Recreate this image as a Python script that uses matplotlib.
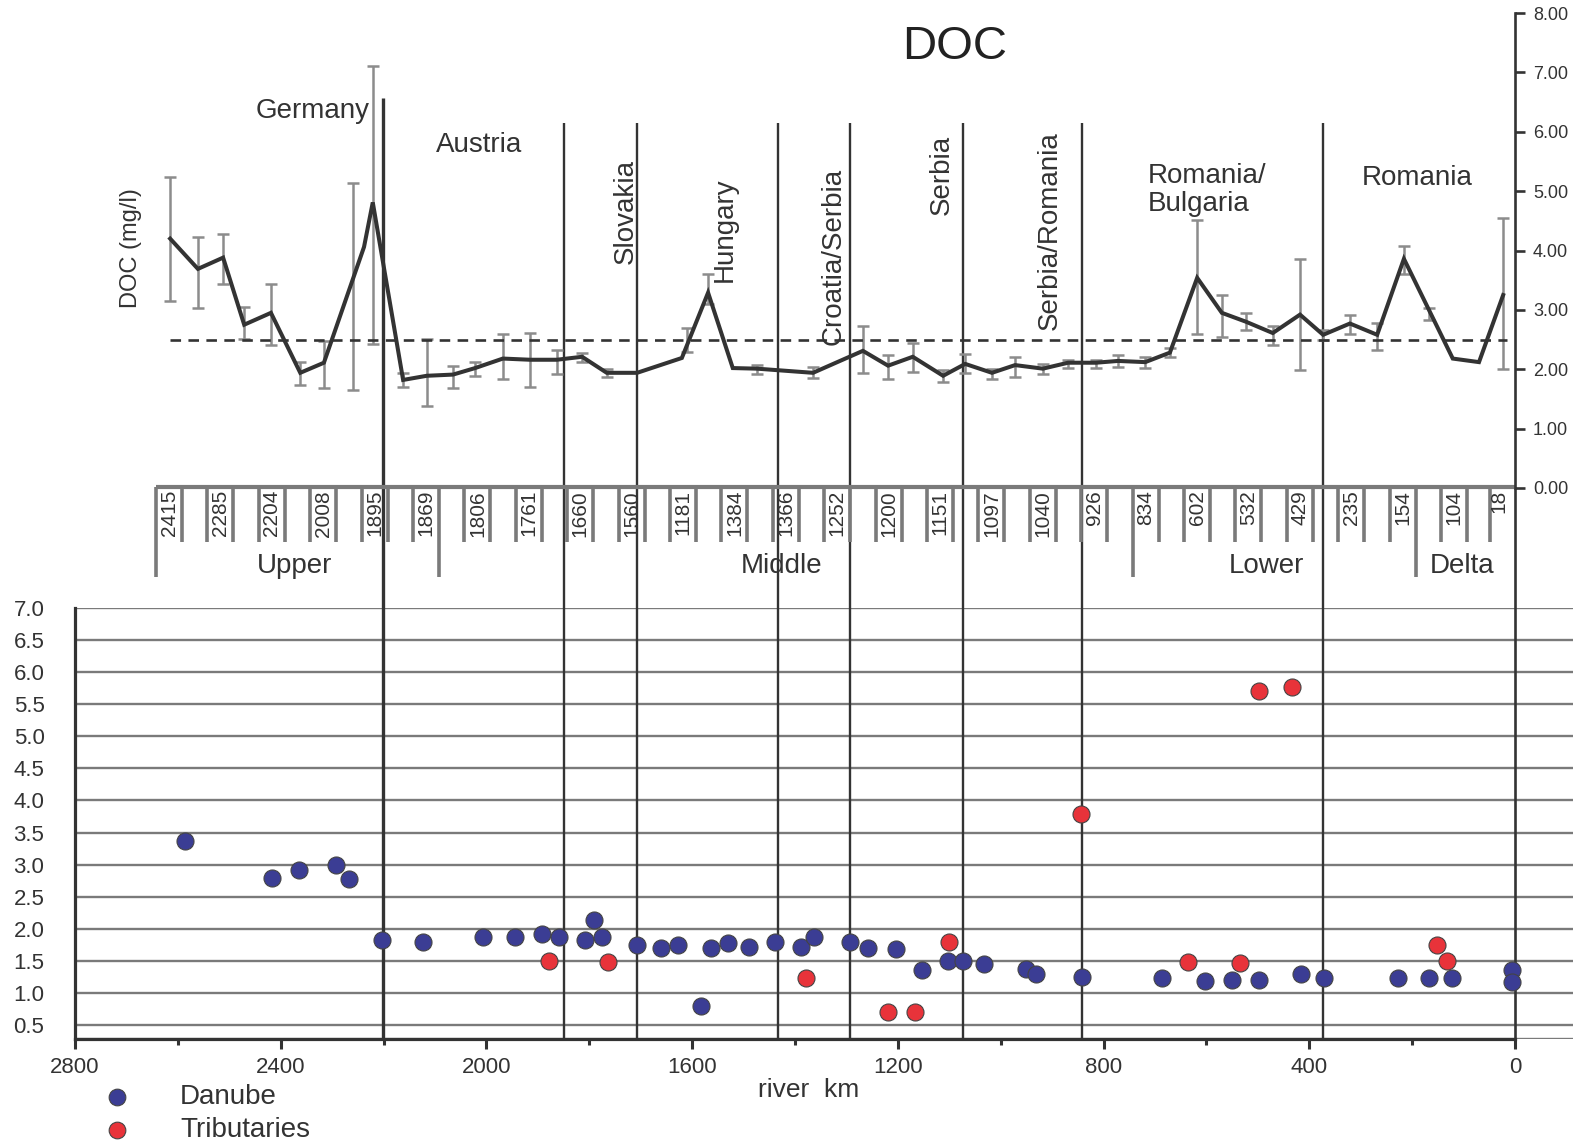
import numpy as np
import matplotlib
matplotlib.use('Agg')
import matplotlib.pyplot as plt

plt.rcParams['font.family'] = ['Liberation Sans', 'DejaVu Sans']

# ------------------------------------------------------------------ data
# Top panel: DOC profile (x positions on the river-km scale of the figure)
line_km = [2615, 2561, 2512, 2471, 2419, 2362, 2316, 2238, 2221, 2162,
           2116, 2065, 2022, 1968, 1915, 1863, 1814, 1766, 1707, 1620,
           1569, 1521, 1474, 1365, 1268, 1219, 1171, 1112, 1069, 1017,
           972, 918, 869, 815, 772, 719, 671, 618, 570, 523,
           471, 418, 373, 321, 268, 216, 121, 70, 23]
line_doc = [4.20, 3.69, 3.88, 2.75, 2.95, 1.94, 2.11, 4.06, 4.81, 1.82,
            1.89, 1.91, 2.02, 2.18, 2.16, 2.16, 2.21, 1.94, 1.94, 2.19,
            3.29, 2.02, 2.01, 1.94, 2.31, 2.06, 2.21, 1.89, 2.09, 1.94,
            2.07, 2.01, 2.11, 2.11, 2.14, 2.12, 2.28, 3.54, 2.95, 2.80,
            2.61, 2.92, 2.58, 2.77, 2.58, 3.86, 2.18, 2.12, 3.25]

err_km = [2615, 2561, 2512, 2471, 2419, 2362, 2316, 2259, 2221, 2162,
          2116, 2065, 2022, 1968, 1915, 1863, 1814, 1766, 1610, 1569,
          1474, 1365, 1268, 1219, 1171, 1112, 1069, 1017, 972, 918,
          869, 815, 772, 719, 671, 618, 570, 523, 471, 418,
          373, 321, 268, 216, 167, 23]
err_hi = [5.24, 4.23, 4.28, 3.05, 3.44, 2.12, 2.48, 5.13, 7.10, 1.94,
          2.51, 2.06, 2.12, 2.60, 2.61, 2.33, 2.28, 2.01, 2.70, 3.61,
          2.07, 2.04, 2.73, 2.24, 2.45, 1.99, 2.26, 2.01, 2.21, 2.09,
          2.16, 2.16, 2.24, 2.21, 2.36, 4.52, 3.25, 2.95, 2.73, 3.86,
          2.66, 2.92, 2.78, 4.08, 3.04, 4.54]
err_lo = [3.15, 3.04, 3.44, 2.51, 2.41, 1.74, 1.69, 1.65, 2.43, 1.70,
          1.38, 1.69, 1.89, 1.84, 1.70, 1.92, 2.12, 1.87, 2.29, 3.10,
          1.92, 1.85, 1.94, 1.84, 1.96, 1.79, 1.94, 1.84, 1.87, 1.92,
          2.02, 2.02, 2.04, 2.02, 2.21, 2.60, 2.55, 2.66, 2.41, 1.99,
          2.50, 2.60, 2.33, 3.61, 2.83, 2.01]
doc_mean = 2.5

station_labels = ["2415", "2285", "2204", "2008", "1895", "1869", "1806",
                  "1761", "1660", "1560", "1181", "1384", "1366", "1252",
                  "1200", "1151", "1097", "1040", "926", "834", "602",
                  "532", "429", "235", "154", "104", "18"]
section_labels = ["Upper", "Middle", "Lower", "Delta"]

# country borders (river km) shared by both panels
border_km = [2201, 1849, 1707, 1433, 1293, 1073, 842, 373]

# Bottom panel: DOC of Danube and tributaries vs river km
danube_km = [2586, 2417, 2364, 2293, 2267, 2203, 2123, 2007, 1945, 1891,
             1859, 1808, 1791, 1775, 1707, 1661, 1628, 1583, 1563, 1530,
             1489, 1439, 1388, 1363, 1293, 1258, 1204, 1153, 1102, 1073,
             1032, 951, 931, 842, 686, 603, 550, 498, 416, 372,
             228, 167, 122, 6, 6]
danube_doc = [3.37, 2.79, 2.92, 3.00, 2.77, 1.82, 1.80, 1.87, 1.87, 1.92,
              1.87, 1.82, 2.13, 1.87, 1.75, 1.70, 1.75, 0.79, 1.70, 1.78,
              1.72, 1.80, 1.72, 1.87, 1.80, 1.70, 1.68, 1.35, 1.50, 1.50,
              1.45, 1.37, 1.29, 1.25, 1.23, 1.18, 1.20, 1.20, 1.29, 1.23,
              1.23, 1.23, 1.23, 1.35, 1.17]
trib_km = [1878, 1764, 1378, 1219, 1167, 1100, 844, 636, 535, 498, 433, 152, 133]
trib_doc = [1.50, 1.48, 1.23, 0.70, 0.70, 1.80, 3.79, 1.48, 1.47, 5.71, 5.77, 1.75, 1.50]

# ------------------------------------------------------------------ layout
W, H = 1585, 1142
X0, X1 = 75, 1515            # pixel columns of 2800 km and 0 km
KPP = 2800.0 / (X1 - X0)     # km per pixel
DARK = '#333333'
GRID = '#7a7a7a'
ERR = '#8c8c8c'
BLUE = '#3b3d94'
RED = '#e8333a'

fig = plt.figure(figsize=(W / 100, H / 100), dpi=100)
fig.patch.set_facecolor('white')


def fx(px):
    return px / W


def fy(py):
    return 1 - py / H


# overlay: x in river km, y in pixels (for lines running between panels)
ax_km = fig.add_axes([0, 0, 1, 1])
ax_km.set_xlim(2800 + X0 * KPP, 0 - (W - X1) * KPP)
ax_km.set_ylim(H, 0)
ax_km.axis('off')

# overlay in pixels for annotation band and texts
ax_px = fig.add_axes([0, 0, 1, 1])
ax_px.set_xlim(0, W)
ax_px.set_ylim(H, 0)
ax_px.axis('off')
ax_px.patch.set_alpha(0)

# ---------------- top panel
ax_top = fig.add_axes([fx(X0), fy(488), (X1 - X0) / W, (488 - 13) / H])
ax_top.patch.set_alpha(0)
ax_top.set_xlim(2800, 0)
ax_top.set_ylim(0, 8)
for s in ['left', 'top', 'bottom']:
    ax_top.spines[s].set_visible(False)
ax_top.spines['right'].set_color(DARK)
ax_top.spines['right'].set_linewidth(1.9)
ax_top.yaxis.tick_right()
ax_top.set_yticks(range(9))
ax_top.set_yticklabels([f'{v:.2f}' for v in range(9)])
ax_top.set_xticks([])
ax_top.tick_params(axis='y', direction='out', length=7, width=1.9,
                   colors=DARK, labelsize=13, pad=6)

err_km_a = np.array(err_km)
hi = np.array(err_hi)
lo = np.array(err_lo)
ax_top.errorbar(err_km_a, (hi + lo) / 2, yerr=(hi - lo) / 2, fmt='none',
                ecolor=ERR, elinewidth=1.8, capsize=4.2, capthick=1.8, zorder=2)
ax_top.plot([line_km[0], 15], [doc_mean, doc_mean], color=DARK, lw=1.9,
            ls=(0, (4.0, 2.8)), zorder=3)
ax_top.plot(line_km, line_doc, color=DARK, lw=2.9, zorder=4,
            solid_joinstyle='miter')

# border lines across the upper part and the station band
for i, km in enumerate(border_km):
    top = 98 if i == 0 else 123
    ax_km.plot([km, km], [top, 608], color=DARK,
               lw=2.4 if i == 0 else 1.7, solid_capstyle='butt', zorder=1)
ax_km.plot([0, 0], [487, 608], color=DARK, lw=1.9, solid_capstyle='butt')

# station band
ax_px.plot([156, X1], [487, 487], color=GRID, lw=3.0, solid_capstyle='butt')
n = len(station_labels)
long_left = {0, 19}
long_right = {5, 24}
for i, lab in enumerate(station_labels):
    cx = 169 + 51.4 * i if i < n - 1 else 1499
    ax_px.text(cx, 490, lab, rotation=90, ha='center', va='top',
               fontsize=15, color=DARK)
    lx = cx - 13 if i < n - 1 else cx - 9
    ax_px.plot([lx, lx], [487, 577 if i in long_left else 542], color=GRID,
               lw=2.6, solid_capstyle='butt')
    if i < n - 1:
        ax_px.plot([cx + 13, cx + 13], [487, 577 if i in long_right else 542],
                   color=GRID, lw=2.6, solid_capstyle='butt')

for lab, x in zip(section_labels, [295, 782, 1266, 1462]):
    ax_px.text(x, 566, lab, ha='center', va='center', fontsize=20, color=DARK)

# texts of the top panel
ax_px.text(955, 47, 'DOC', ha='center', va='center', fontsize=34, color='#222222')
ax_px.text(131, 248, 'DOC (mg/l)', rotation=90, ha='center', va='center',
           fontsize=17, color=DARK)
countries = [("Germany", 313, 111, 0), ("Austria", 479, 145, 0),
             ("Slovakia", 626, 212, 90), ("Hungary", 725, 230, 90),
             ("Croatia/Serbia", 834, 256, 90), ("Serbia", 942, 175, 90),
             ("Serbia/Romania", 1050, 231, 90), ("Romania", 1417, 178, 0)]
for name, x, y, rot in countries:
    ax_px.text(x, y, name, rotation=rot, ha='center', va='center',
               fontsize=20, color=DARK)
ax_px.text(1148, 190, 'Romania/\nBulgaria', ha='left', va='center',
           fontsize=20, color=DARK, linespacing=1.12)

# ---------------- bottom panel
XR = 1573
ax_bot = fig.add_axes([fx(X0), fy(1039), (XR - X0) / W, (1039 - 608) / H])
ax_bot.set_xlim(2800, 2800 - (XR - X0) * KPP)
y0 = 0.2817
ax_bot.set_ylim(y0, 7.0)
ax_bot.spines['top'].set_visible(False)
ax_bot.spines['right'].set_visible(False)
ax_bot.spines['left'].set_color(DARK)
ax_bot.spines['left'].set_linewidth(2.3)
ax_bot.spines['bottom'].set_color(DARK)
ax_bot.spines['bottom'].set_linewidth(2.3)
ax_bot.spines['bottom'].set_bounds(2800, 0)
yt = np.arange(0.5, 7.01, 0.5)
ax_bot.set_yticks(yt)
ax_bot.set_yticklabels([f'{v:.1f}' for v in yt])
ax_bot.tick_params(axis='y', length=0, pad=22, labelsize=16, colors=DARK)
for v in yt:
    ax_bot.axhline(v, color=GRID, lw=1.7, zorder=1)
ax_bot.axhline(y0, color=GRID, lw=1.7, zorder=0.5)
xt = np.arange(2800, -1, -400)
ax_bot.set_xticks(xt)
ax_bot.set_xticklabels([str(v) for v in xt])
ax_bot.set_xticks(np.arange(2600, 0, -400), minor=True)
ax_bot.tick_params(axis='x', which='major', length=7, width=2.2, colors=DARK,
                   labelsize=16, pad=6)
ax_bot.tick_params(axis='x', which='minor', length=4, width=2.2, colors=DARK)
for i, km in enumerate(border_km):
    ax_bot.axvline(km, color=DARK, lw=2.4 if i == 0 else 1.7, zorder=2)
ax_bot.axvline(0, color=DARK, lw=1.9, zorder=2)

ax_bot.scatter(danube_km, danube_doc, s=150, c=BLUE, edgecolors='#444444',
               linewidths=0.8, zorder=5)
ax_bot.scatter(trib_km, trib_doc, s=150, c=RED, edgecolors='#444444',
               linewidths=0.8, zorder=6)

# x label and legend
ax_px.text(809, 1090, 'river  km', ha='center', va='center', fontsize=19, color=DARK)
ax_px.plot([117], [1097], 'o', ms=12, mfc=BLUE, mec='#444444', mew=0.8, clip_on=False)
ax_px.plot([117], [1130], 'o', ms=12, mfc=RED, mec='#444444', mew=0.8, clip_on=False)
ax_px.text(180, 1097, 'Danube', ha='left', va='center', fontsize=20, color=DARK)
ax_px.text(180, 1130, 'Tributaries', ha='left', va='center', fontsize=20, color=DARK)

fig.savefig('out.png', dpi=100, facecolor='white')
